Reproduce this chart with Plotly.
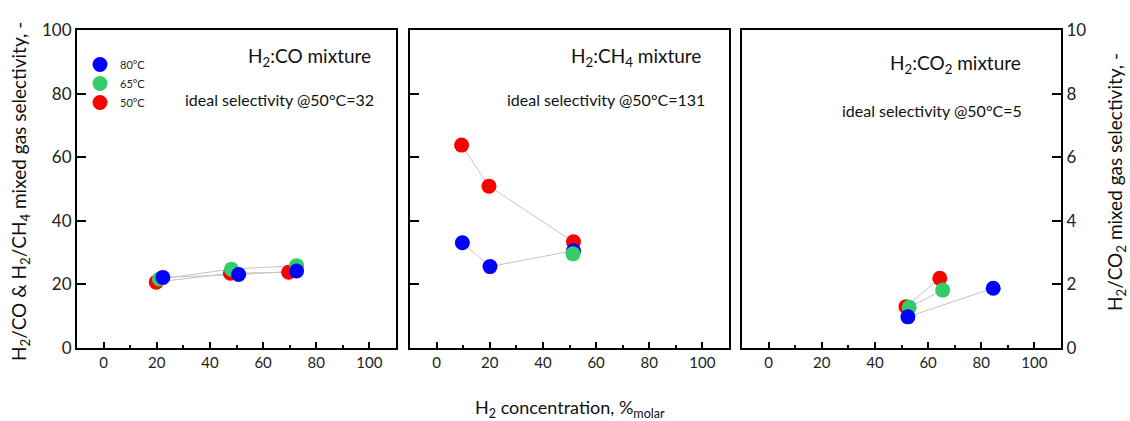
import plotly.graph_objects as go

# H2 concentration (%molar) and mixed-gas selectivity, per mixture and temperature
co_x_80 = [22.3, 50.8, 72.6]
co_y_80 = [22.2, 23.1, 24.2]
co_x_65 = [21.0, 48.1, 72.6]
co_y_65 = [21.7, 24.8, 25.9]
co_x_50 = [19.8, 47.7, 69.6]
co_y_50 = [20.7, 23.5, 23.8]

ch4_x_80 = [9.7, 20.1, 51.5]
ch4_y_80 = [33.1, 25.6, 30.6]
ch4_x_65 = [51.3]
ch4_y_65 = [29.6]
ch4_x_50 = [9.4, 19.7, 51.5]
ch4_y_50 = [63.8, 50.9, 33.4]

co2_x_80 = [52.4, 84.5]
co2_y_80 = [0.98, 1.88]
co2_x_65 = [52.9, 65.5]
co2_y_65 = [1.28, 1.82]
co2_x_50 = [51.7, 64.4]
co2_y_50 = [1.30, 2.19]

temps = ["80°C", "65°C", "50°C"]
colors = {"80°C": "#0000FF", "65°C": "#33CC66", "50°C": "#FF0000"}

panels = [
    ("x", "y", {"80°C": (co_x_80, co_y_80), "65°C": (co_x_65, co_y_65), "50°C": (co_x_50, co_y_50)},
     ["50°C", "65°C", "80°C"]),
    ("x2", "y2", {"80°C": (ch4_x_80, ch4_y_80), "65°C": (ch4_x_65, ch4_y_65), "50°C": (ch4_x_50, ch4_y_50)},
     ["50°C", "80°C", "65°C"]),
    ("x3", "y3", {"80°C": (co2_x_80, co2_y_80), "65°C": (co2_x_65, co2_y_65), "50°C": (co2_x_50, co2_y_50)},
     ["50°C", "65°C", "80°C"]),
]

FONT = "Lato"
W, H = 1130, 421
ML, MR, MT, MB = 77, 69, 30, 73
PW = W - ML - MR
PH = H - MT - MB


def px(xp):
    return (xp - ML) / PW


def py(yp):
    return (H - MB - yp) / PH


fig = go.Figure()

for i, (xa, ya, series, order) in enumerate(panels):
    # connecting lines first, so markers sit on top
    for t in order:
        xs, ys = series[t]
        if len(xs) > 1:
            fig.add_trace(go.Scatter(x=xs, y=ys, xaxis=xa, yaxis=ya, mode="lines",
                                     line=dict(color="#c4c4c4", width=1),
                                     showlegend=False, hoverinfo="skip"))
    for t in order:
        xs, ys = series[t]
        fig.add_trace(go.Scatter(x=xs, y=ys, xaxis=xa, yaxis=ya, mode="markers",
                                 marker=dict(color=colors[t], size=15, line=dict(width=0)),
                                 name=t, showlegend=(i == 0),
                                 legendrank=temps.index(t) + 1))

dom1 = [px(77), px(396)]
dom2 = [px(410), px(729)]
dom3 = [px(742), px(1061)]

xcommon = dict(range=[-10, 110], tickvals=[0, 20, 40, 60, 80, 100], ticks="inside",
               ticklen=6, tickwidth=1.5, tickcolor="black", showline=True, linewidth=2,
               linecolor="black", mirror=True, showgrid=False, zeroline=False,
               tickfont=dict(family=FONT, size=15, color="#222"),
               minor=dict(dtick=10, tick0=0, ticks="inside", ticklen=3, tickwidth=1.5,
                          tickcolor="black", showgrid=False))

ycommon = dict(ticks="inside", ticklen=9, tickwidth=1.5, tickcolor="black", showline=True,
               linewidth=2, linecolor="black", mirror=True, showgrid=False, zeroline=False,
               tickfont=dict(family=FONT, size=17, color="#222"))

fig.update_layout(
    width=W, height=H,
    margin=dict(l=ML, r=MR, t=MT, b=MB),
    paper_bgcolor="white", plot_bgcolor="white",
    font=dict(family=FONT, color="#222"),
    xaxis=dict(domain=dom1, anchor="y", **xcommon),
    xaxis2=dict(domain=dom2, anchor="y2", **xcommon),
    xaxis3=dict(domain=dom3, anchor="y3", **xcommon),
    yaxis=dict(domain=[0, 1], anchor="x", range=[0, 100], dtick=20, **ycommon),
    yaxis2=dict(domain=[0, 1], anchor="x2", range=[0, 100], dtick=20, showticklabels=False,
                **ycommon),
    yaxis3=dict(domain=[0, 1], anchor="x3", range=[0, 10], dtick=2, side="right", **ycommon),
    legend=dict(x=px(80), y=py(50), xanchor="left", yanchor="top",
                bgcolor="rgba(0,0,0,0)", font=dict(family=FONT, size=11, color="#222"),
                tracegroupgap=0, itemsizing="trace"),
    showlegend=True,
)

notes = [
    (373, 57, "H<sub>2</sub>:CO mixture", 19),
    (376, 100, "ideal selectivity @50°C=32", 16),
    (703, 57, "H<sub>2</sub>:CH<sub>4</sub> mixture", 19),
    (707, 100, "ideal selectivity @50°C=131", 16),
    (1023, 64, "H<sub>2</sub>:CO<sub>2</sub> mixture", 19),
    (1024, 110, "ideal selectivity @50°C=5", 16),
]
for x0, y0, txt, fs in notes:
    fig.add_annotation(x=px(x0), y=py(y0), xref="paper", yref="paper", text=txt,
                       showarrow=False, xanchor="right", yanchor="middle",
                       font=dict(family=FONT, size=fs, color="#111"))

# axis titles
fig.add_annotation(x=px(20), y=py(192), xref="paper", yref="paper",
                   text="H<sub>2</sub>/CO &amp; H<sub>2</sub>/CH<sub>4</sub> mixed gas selectivity, -",
                   textangle=-90, showarrow=False, xanchor="center", yanchor="middle",
                   font=dict(family=FONT, size=19, color="#111"))
fig.add_annotation(x=px(1116), y=py(182), xref="paper", yref="paper",
                   text="H<sub>2</sub>/CO<sub>2</sub> mixed gas selectivity, -",
                   textangle=-90, showarrow=False, xanchor="center", yanchor="middle",
                   font=dict(family=FONT, size=19, color="#111"))
fig.add_annotation(x=px(570), y=py(408), xref="paper", yref="paper",
                   text="H<sub>2</sub> concentration, %<sub>molar</sub>",
                   showarrow=False, xanchor="center", yanchor="middle",
                   font=dict(family=FONT, size=18, color="#111"))

fig.write_html("out.html")
